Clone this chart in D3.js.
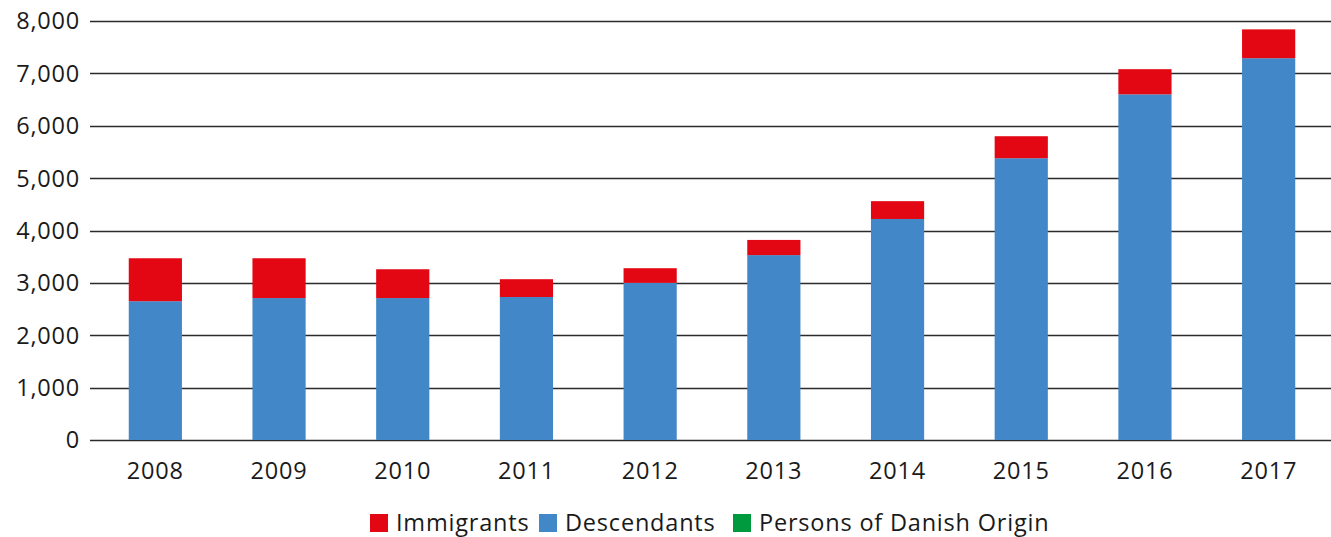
<!DOCTYPE html>
<html>
<head>
<meta charset="utf-8">
<script src="https://cdn.jsdelivr.net/npm/d3@7/dist/d3.min.js"></script>
<style>
  body { margin: 0; background: #fff; }
  text { font-family: "Open Sans", Lato, sans-serif; fill: #1a1a1a; letter-spacing: 0.8px; }
</style>
</head>
<body>
<svg id="chart" width="1331" height="537"></svg>
<script>
const years = ["2008", "2009", "2010", "2011", "2012", "2013", "2014", "2015", "2016", "2017"]
const descendants = [2650, 2710, 2710, 2730, 3000, 3530, 4220, 5380, 6600, 7290]
const immigrants = [820, 760, 550, 340, 280, 290, 340, 420, 480, 550]
const danishOrigin = [0, 0, 0, 0, 0, 0, 0, 0, 0, 0]
const yTicks = [0, 1000, 2000, 3000, 4000, 5000, 6000, 7000, 8000]

const seriesNames = ["Descendants", "Immigrants", "Persons of Danish Origin"]
const colors = {
  "Immigrants": "#e30613",
  "Descendants": "#4288c8",
  "Persons of Danish Origin": "#009a3e"
}
const legendOrder = ["Immigrants", "Descendants", "Persons of Danish Origin"]

// rows for the stack
const rows = years.map((y, i) => ({
  year: y,
  "Descendants": descendants[i],
  "Immigrants": immigrants[i],
  "Persons of Danish Origin": danishOrigin[i]
}))

const svg = d3.select("#chart")
const plotLeft = 93.5, plotRight = 1330.5, plotTop = 21, plotBottom = 440
const fontSize = 23.5

const x = d3.scaleBand().domain(years).range([plotLeft, plotRight]).paddingInner(0.57).paddingOuter(0.285)
const y = d3.scaleLinear().domain([0, 8000]).range([plotBottom, plotTop])

// grid lines
svg.append("g").selectAll("line")
  .data(yTicks)
  .join("line")
  .attr("x1", 90).attr("x2", 1331)
  .attr("y1", d => Math.round(y(d)) + 0.5).attr("y2", d => Math.round(y(d)) + 0.5)
  .attr("stroke", "#2b2b2b")
  .attr("stroke-width", 1.4)

// y labels
svg.append("g").selectAll("text")
  .data(yTicks)
  .join("text")
  .attr("x", 80)
  .attr("y", d => y(d))
  .attr("dy", "0.36em")
  .attr("text-anchor", "end")
  .attr("font-size", fontSize)
  .text(d => d3.format(",")(d))

// stacked bars
const stacked = d3.stack().keys(seriesNames)(rows)
svg.append("g").selectAll("g")
  .data(stacked)
  .join("g")
  .attr("fill", s => colors[s.key])
  .selectAll("rect")
  .data(s => s)
  .join("rect")
  .attr("x", d => x(d.data.year))
  .attr("width", x.bandwidth())
  .attr("y", d => y(d[1]))
  .attr("height", d => y(d[0]) - y(d[1]))

// x labels
svg.append("g").selectAll("text")
  .data(years)
  .join("text")
  .attr("x", d => x(d) + x.bandwidth() / 2)
  .attr("y", 479)
  .attr("text-anchor", "middle")
  .attr("font-size", fontSize)
  .text(d => d)

// legend
const legendX = [370, 539, 733]
const lg = svg.append("g").selectAll("g")
  .data(legendOrder)
  .join("g")
  .attr("transform", (d, i) => `translate(${legendX[i]},514)`)
lg.append("rect")
  .attr("width", 18).attr("height", 18)
  .attr("fill", d => colors[d])
lg.append("text")
  .attr("x", 26).attr("y", 9)
  .attr("dy", "0.36em")
  .attr("font-size", fontSize)
  .text(d => d)
</script>
</body>
</html>
